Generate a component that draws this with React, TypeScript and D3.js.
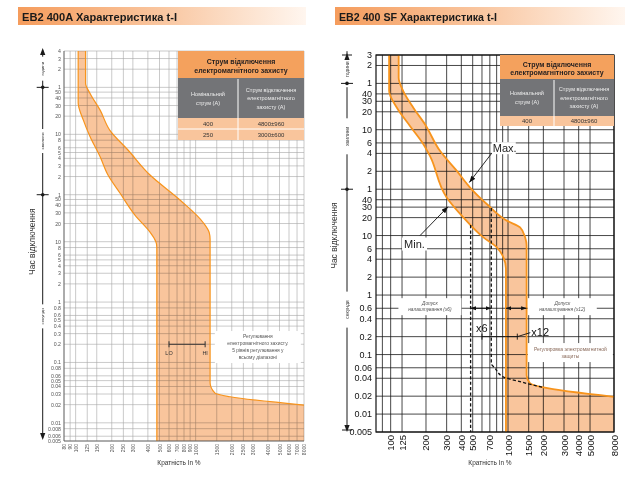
import * as React from "react";
import * as d3 from "d3";

type Pt = [number, number]; // [multiple of In, %; trip time, s]
type Scale = d3.ScaleLogarithmic<number, number>;

const HOUR = 3600;
const MINUTE = 60;

// ---------- EB2 400A (left) ----------
const leftTitle = "EB2 400A Характеристика t-I";
const leftXTicks = [80, 90, 100, 125, 150, 200, 250, 300, 400, 500, 600, 700, 800, 900, 1000, 1500, 2000, 2500, 3000, 4000, 5000, 6000, 7000, 8000];
const leftHours = [4, 3, 2, 1];
const leftMinutes = [50, 40, 30, 20, 10, 8, 6, 5, 4, 3, 2, 1];
const leftSeconds = [50, 40, 30, 20, 10, 8, 6, 5, 4, 3, 2, 1, 0.8, 0.6, 0.5, 0.4, 0.3, 0.2, 0.1, 0.08, 0.06, 0.05, 0.04, 0.03, 0.02, 0.01, 0.008, 0.006, 0.005];
const leftMinCurve: Pt[] = [[105, 14400], [105, 2000], [116, 1030], [132, 546], [160, 255], [186, 127], [234, 64], [312, 27.6], [417, 14.4], [450, 11.5], [472, 9.2], [475, 7.5], [475, 0.005]];
const leftMaxCurve: Pt[] = [[121, 14400], [121, 4200], [132, 2850], [160, 1510], [193, 700], [273, 330], [417, 127], [741, 49], [1150, 21], [1300, 14], [1320, 11], [1320, 0.046], [1450, 0.031], [1940, 0.027], [8000, 0.0197]];
const leftRows = [["400", "4800±960"], ["250", "3000±600"]];
const leftLoHi: Pt[] = [[600, 0.2], [1200, 0.2]];
const leftNote = ["Регулювання", "електромагнітного захисту.", "5 рівнів регулювання у", "всьому діапазоні"];
const leftNoteAt: Pt = [3300, 0.18];

// ---------- EB2 400 SF (right) ----------
const rightTitle = "EB2 400 SF Характеристика t-I";
const rightXGrid = [85, 100, 125, 200, 300, 400, 500, 600, 700, 800, 900, 1000, 1500, 2000, 3000, 4000, 5000, 8000];
const rightXLabels = [100, 125, 200, 300, 400, 500, 700, 1000, 1500, 2000, 3000, 4000, 5000, 8000];
const rightHours = [3, 2, 1];
const rightMinutes = [40, 30, 20, 10, 6, 4, 2, 1];
const rightSeconds = [40, 30, 20, 10, 6, 4, 2, 1, 0.6, 0.4, 0.2, 0.1, 0.06, 0.04, 0.02, 0.01, 0.005];
const rightMinCurve: Pt[] = [[97, 10800], [97, 2700], [113, 1400], [146, 694], [190, 343], [216, 218], [300, 43.7], [416, 20.2], [617, 9.3], [802, 6.35], [913, 4.3], [960, 2.8], [960, 0.005]];
const rightMaxCurve: Pt[] = [[117, 10800], [117, 4470], [128, 2680], [156, 1406], [196, 741], [263, 265], [366, 122], [475, 64], [659, 33.9], [975, 17.8], [1267, 13.7], [1400, 9.3], [1440, 6.8], [1440, 0.045], [1540, 0.033], [2000, 0.028], [8000, 0.0195]];
const rightX6Min: Pt[] = [[480, 15], [480, 0.005]];
const rightX6Max: Pt[] = [[720, 29], [720, 0.071], [775, 0.059], [913, 0.042], [1267, 0.035], [2000, 0.028]];
const rightRows = [["400", "4800±960"]];
const rightTolX6: Pt[] = [[480, 0.6], [720, 0.6]];
const rightTolX12: Pt[] = [[960, 0.6], [1440, 0.6]];
const rightSetting: Pt[] = [[600, 0.2], [1200, 0.2]];
const rightMinArrow: Pt[] = [[178, 10], [308, 30.5]];
const rightMaxArrow: Pt[] = [[727, 242], [468, 78]];
const rightTolX6At: Pt = [216, 0.6];
const rightTolX12At: Pt = [2900, 0.6];
const rightNoteAt: Pt = [3400, 0.1];

const tableHead = ["Струм відключення", "електромагнітного захисту"];
const tableColA = ["Номінальний", "струм (А)"];
const tableColB = ["Струм відключення", "електромагнітного", "захисту (А)"];
const unitNames = ["години", "хвилини", "секунди"];
const yTitle = "Час відключення";
const xTitle = "Кратність In %";

const ORANGE = "#f7941d";
const BAND = "#f9c59c";

function toTicks(h: number[], m: number[], s: number[]) {
  return [
    ...h.map((v) => ({ t: v * HOUR, label: String(v) })),
    ...m.map((v) => ({ t: v * MINUTE, label: String(v) })),
    ...s.map((v) => ({ t: v, label: String(v) })),
  ];
}

function Grid({ x, y, xs, ts, stroke, sw }: { x: Scale; y: Scale; xs: number[]; ts: { t: number }[]; stroke: string; sw: number }) {
  const [x0, x1] = x.range();
  const [yb, yt] = y.range();
  return (
    <g stroke={stroke} strokeWidth={sw}>
      {xs.map((v) => <line key={"v" + v} x1={x(v)} x2={x(v)} y1={yt} y2={yb} />)}
      {ts.map((d) => <line key={"h" + d.t} x1={x0} x2={x1} y1={y(d.t)} y2={y(d.t)} />)}
    </g>
  );
}

function Band({ x, y, minPts, maxPts, sw }: { x: Scale; y: Scale; minPts: Pt[]; maxPts: Pt[]; sw: number }) {
  const line = d3.line<Pt>().x((d) => x(d[0])).y((d) => y(d[1])).curve(d3.curveMonotoneY);
  const minPath = line(minPts) ?? "";
  const maxPath = line(maxPts) ?? "";
  const back = line([...maxPts].reverse()) ?? "";
  const tail = maxPts[maxPts.length - 1];
  const floor = minPts[minPts.length - 1][1];
  const area = `${minPath}L${x(tail[0])},${y(floor)}${back.replace(/^M/, "L")}Z`;
  return (
    <g>
      <path d={area} fill={BAND} style={{ mixBlendMode: "multiply" }} />
      <path d={minPath} fill="none" stroke={ORANGE} strokeWidth={sw} />
      <path d={maxPath} fill="none" stroke={ORANGE} strokeWidth={sw} />
    </g>
  );
}

function YLabels({ y, ticks, xr, size, color }: { y: Scale; ticks: { t: number; label: string }[]; xr: number; size: number; color: string }) {
  return (
    <g fontSize={size} fill={color} textAnchor="end" dominantBaseline="central">
      {ticks.map((d) => <text key={d.t} x={xr} y={y(d.t)}>{d.label}</text>)}
    </g>
  );
}

function XLabels({ x, vals, yTop, size, color }: { x: Scale; vals: number[]; yTop: number; size: number; color: string }) {
  return (
    <g fontSize={size} fill={color} textAnchor="end" dominantBaseline="central">
      {vals.map((v) => (
        <text key={v} transform={`translate(${x(v)},${yTop}) rotate(-90)`}>{String(v)}</text>
      ))}
    </g>
  );
}

function TimeColumn({ cx, top, bottom, y, unitSize, gap, titleX, titleSize, endTicks }: {
  cx: number; top: number; bottom: number; y: Scale; unitSize: number; gap: number; titleX: number; titleSize: number; endTicks: boolean;
}) {
  const yH = y(HOUR);
  const yM = y(MINUTE);
  const units = [(top + yH) / 2, (yH + yM) / 2, (yM + bottom) / 2];
  const segs: [number, number][] = [];
  let s = top;
  units.forEach((u) => {
    segs.push([s, u - gap]);
    s = u + gap;
  });
  segs.push([s, bottom]);
  return (
    <g>
      <g stroke="#1a1a1a" strokeWidth={1}>
        {segs.map(([a, b], i) => <line key={i} x1={cx} x2={cx} y1={a} y2={b} />)}
        {[yH, yM].map((v) => <line key={v} x1={cx - 6} x2={cx + 6} y1={v} y2={v} />)}
        {endTicks && [top, bottom].map((v) => <line key={"e" + v} x1={cx - 5} x2={cx + 5} y1={v} y2={v} />)}
      </g>
      {[yH, yM].map((v) => <circle key={v} cx={cx} cy={v} r={1.8} fill="#1a1a1a" />)}
      <path d={`M${cx},${top - 2}L${cx - 2.6},${top + 5}L${cx + 2.6},${top + 5}Z`} fill="#1a1a1a" />
      <path d={`M${cx},${bottom + 2}L${cx - 2.6},${bottom - 5}L${cx + 2.6},${bottom - 5}Z`} fill="#1a1a1a" />
      <g fontSize={unitSize} fill="#444" textAnchor="middle" dominantBaseline="central">
        {units.map((u, i) => (
          <text key={i} transform={`translate(${cx},${u}) rotate(-90)`}>{unitNames[i]}</text>
        ))}
      </g>
      <text transform={`translate(${titleX},${y(10)}) rotate(-90)`} fontSize={titleSize} fill="#333" textAnchor="middle" dominantBaseline="central">
        {yTitle}
      </text>
    </g>
  );
}

function Table({ x0, x1, xDiv, top, headH, grayH, rowH, rows }: {
  x0: number; x1: number; xDiv: number; top: number; headH: number; grayH: number; rowH: number; rows: string[][];
}) {
  const cA = (x0 + xDiv) / 2;
  const cB = (xDiv + x1) / 2;
  const gTop = top + headH;
  const gMid = gTop + grayH / 2;
  const rTop = gTop + grayH;
  const bottom = rTop + rowH * rows.length;
  return (
    <g>
      <rect x={x0} y={top} width={x1 - x0} height={headH} fill="#f4a15d" />
      <rect x={x0} y={gTop} width={x1 - x0} height={grayH} fill="#737477" />
      <rect x={x0} y={rTop} width={x1 - x0} height={rowH * rows.length} fill={BAND} />
      <g fontSize={7} fontWeight="bold" fill="#231f20" textAnchor="middle" dominantBaseline="central">
        <text x={(x0 + x1) / 2} y={top + headH * 0.4}>{tableHead[0]}</text>
        <text x={(x0 + x1) / 2} y={top + headH * 0.74}>{tableHead[1]}</text>
      </g>
      <g fontSize={5.6} fill="#ececec" textAnchor="middle" dominantBaseline="central">
        {tableColA.map((t, i) => <text key={t} x={cA} y={gMid - 4.5 + i * 9}>{t}</text>)}
        {tableColB.map((t, i) => <text key={t} x={cB} y={gMid - 8.5 + i * 8.5}>{t}</text>)}
      </g>
      <g stroke="#fff" strokeWidth={1}>
        <line x1={xDiv} x2={xDiv} y1={gTop + 1} y2={bottom} />
        {rows.slice(1).map((_, i) => <line key={i} x1={x0} x2={x1} y1={rTop + rowH * (i + 1)} y2={rTop + rowH * (i + 1)} />)}
      </g>
      <g fontSize={6} fill="#333" textAnchor="middle" dominantBaseline="central">
        {rows.map((r, i) => (
          <g key={i}>
            <text x={cA} y={rTop + rowH * (i + 0.5)}>{r[0]}</text>
            <text x={cB} y={rTop + rowH * (i + 0.5)}>{r[1]}</text>
          </g>
        ))}
      </g>
    </g>
  );
}

function TitleBar({ x0, x1, text, len }: { x0: number; x1: number; text: string; len: number }) {
  return (
    <g>
      <rect x={x0} y={7} width={x1 - x0} height={18} fill="url(#titleGrad)" />
      <text x={x0 + 4} y={20.5} fontSize={11.5} fontWeight="bold" fill="#1a1a1a" textLength={len} lengthAdjust="spacingAndGlyphs">
        {text}
      </text>
    </g>
  );
}

function NoteBox({ cx, cy, w, h, lines, size, lh, color, italic }: {
  cx: number; cy: number; w: number; h: number; lines: string[]; size: number; lh: number; color: string; italic?: boolean;
}) {
  const first = cy - ((lines.length - 1) * lh) / 2;
  return (
    <g>
      <rect x={cx - w / 2} y={cy - h / 2} width={w} height={h} fill="#fff" />
      <g fontSize={size} fill={color} textAnchor="middle" dominantBaseline="central" fontStyle={italic ? "italic" : "normal"}>
        {lines.map((l, i) => <text key={i} x={cx} y={first + i * lh}>{l}</text>)}
      </g>
    </g>
  );
}

export default function App() {
  const xL = d3.scaleLog().domain([80, 8000]).range([64, 304]);
  const yL = d3.scaleLog().domain([0.005, 14400]).range([441, 51]);
  const xR = d3.scaleLog().domain([75, 8000]).range([376, 614]);
  const yR = d3.scaleLog().domain([0.005, 10800]).range([432, 55]);

  const leftTicks = toTicks(leftHours, leftMinutes, leftSeconds);
  const rightTicks = toTicks(rightHours, rightMinutes, rightSeconds);

  const dash = d3.line<Pt>().x((d) => xR(d[0])).y((d) => yR(d[1])).curve(d3.curveMonotoneY);
  const seg = (x: Scale, y: Scale, p: Pt[]) => ({ x1: x(p[0][0]), y1: y(p[0][1]), x2: x(p[1][0]), y2: y(p[1][1]) });

  const lo = seg(xL, yL, leftLoHi);
  const x6 = seg(xR, yR, rightSetting);
  const tol6 = seg(xR, yR, rightTolX6);
  const tol12 = seg(xR, yR, rightTolX12);
  const minA = seg(xR, yR, rightMinArrow);
  const maxA = seg(xR, yR, rightMaxArrow);

  return (
    <svg
      width={640}
      height={480}
      style={{ position: "absolute", left: 0, top: 0, background: "#fff" }}
      fontFamily="'Liberation Sans', Arial, sans-serif"
    >
      <defs>
        <linearGradient id="titleGrad" x1="0" x2="1" y1="0" y2="0">
          <stop offset="0" stopColor="#f59c5c" />
          <stop offset="0.5" stopColor="#f9c6a0" />
          <stop offset="1" stopColor="#fff6ef" />
        </linearGradient>
        <marker id="arr" viewBox="0 0 8 6" refX="8" refY="3" markerWidth="7" markerHeight="5" markerUnits="userSpaceOnUse" orient="auto-start-reverse">
          <path d="M0,0L8,3L0,6Z" fill="#111" />
        </marker>
        <marker id="arrS" viewBox="0 0 8 6" refX="8" refY="3" markerWidth="5.5" markerHeight="4.5" markerUnits="userSpaceOnUse" orient="auto-start-reverse">
          <path d="M0,0L8,3L0,6Z" fill="#111" />
        </marker>
      </defs>

      {/* ---------------- left chart ---------------- */}
      <TitleBar x0={18} x1={306} text={leftTitle} len={155} />
      <Grid x={xL} y={yL} xs={leftXTicks} ts={leftTicks} stroke="#a6a6a6" sw={0.6} />
      <NoteBox cx={xL(leftNoteAt[0])} cy={yL(leftNoteAt[1])} w={86} h={32} lines={leftNote} size={4.9} lh={7} color="#555" />
      <Band x={xL} y={yL} minPts={leftMinCurve} maxPts={leftMaxCurve} sw={1.2} />
      <line x1={64} x2={64} y1={51} y2={441} stroke="#555" strokeWidth={0.8} />
      <line x1={64} x2={304} y1={441} y2={441} stroke="#555" strokeWidth={0.8} />
      <Table x0={178} x1={304} xDiv={238} top={51} headH={27} grayH={40} rowH={11} rows={leftRows} />
      <g stroke="#333" strokeWidth={1}>
        <line {...lo} />
        <line x1={lo.x1} x2={lo.x1} y1={lo.y1 - 3} y2={lo.y1 + 3} />
        <line x1={lo.x2} x2={lo.x2} y1={lo.y2 - 3} y2={lo.y2 + 3} />
      </g>
      <g fontSize={5.5} fill="#333" textAnchor="middle">
        <text x={lo.x1} y={lo.y1 + 11}>LO</text>
        <text x={lo.x2} y={lo.y2 + 11}>HI</text>
      </g>
      <YLabels y={yL} ticks={leftTicks} xr={61} size={5.2} color="#555" />
      <XLabels x={xL} vals={leftXTicks} yTop={444} size={5} color="#555" />
      <text x={179} y={465} fontSize={6.5} fill="#333" textAnchor="middle">{xTitle}</text>
      <TimeColumn cx={42.7} top={50} bottom={438} y={yL} unitSize={4.4} gap={12} titleX={32} titleSize={8.5} endTicks={false} />

      {/* ---------------- right chart ---------------- */}
      <TitleBar x0={335} x1={625} text={rightTitle} len={158} />
      <Grid x={xR} y={yR} xs={rightXGrid} ts={rightTicks} stroke="#1a1a1a" sw={0.8} />
      <NoteBox cx={xR(rightTolX6At[0])} cy={yR(rightTolX6At[1]) - 1.6} w={63} h={17} lines={["Допуск", "налаштування (x6)"]} size={4.8} lh={6.2} color="#555" italic />
      <NoteBox cx={xR(rightTolX12At[0])} cy={yR(rightTolX12At[1]) - 1.6} w={69} h={17} lines={["Допуск", "налаштування (x12)"]} size={4.8} lh={6.2} color="#555" italic />
      <NoteBox cx={xR(rightNoteAt[0])} cy={yR(rightNoteAt[1]) - 2} w={85} h={19} lines={["Регулировка электромагнитной", "защиты"]} size={5} lh={6.5} color="#8a6a5a" />
      <Band x={xR} y={yR} minPts={rightMinCurve} maxPts={rightMaxCurve} sw={1.8} />
      <g fill="none" stroke="#111" strokeWidth={1.3} strokeDasharray="3.2 2.2">
        <path d={dash(rightX6Min) ?? ""} />
        <path d={dash(rightX6Max) ?? ""} />
      </g>
      <rect x={376} y={55} width={238} height={377} fill="none" stroke="#111" strokeWidth={1.2} />
      <Table x0={500} x1={614} xDiv={554} top={55} headH={24} grayH={37} rowH={10} rows={rightRows} />

      {/* tolerance arrows */}
      <g stroke="#111" strokeWidth={1}>
        <line {...tol6} markerStart="url(#arrS)" markerEnd="url(#arrS)" />
        <line {...tol12} markerStart="url(#arrS)" markerEnd="url(#arrS)" />
      </g>
      {/* x6 / x12 setting bar */}
      <g stroke="#111" strokeWidth={0.9}>
        <line {...x6} />
        <line x1={x6.x1} x2={x6.x1} y1={x6.y1 - 3} y2={x6.y1 + 3} />
        <line x1={x6.x2} x2={x6.x2} y1={x6.y2 - 3} y2={x6.y2 + 3} />
        <line x1={x6.x2} y1={x6.y2} x2={x6.x2 + 13} y2={x6.y2 - 4} />
      </g>
      <g fontSize={11} fill="#111">
        <text x={x6.x1 - 6} y={x6.y1 - 5}>x6</text>
        <text x={x6.x2 + 14} y={x6.y2 - 1}>x12</text>
      </g>

      {/* Min / Max pointers */}
      <rect x={minA.x1 - 18} y={minA.y1 + 2} width={25} height={13} fill="#fff" />
      <rect x={maxA.x1} y={maxA.y1 - 11} width={24} height={12} fill="#fff" />
      <g stroke="#111" strokeWidth={0.9}>
        <line {...minA} markerEnd="url(#arr)" />
        <line {...maxA} markerEnd="url(#arr)" />
      </g>
      <g fontSize={11} fill="#222">
        <text x={minA.x1 - 16} y={minA.y1 + 12.5}>Min.</text>
        <text x={maxA.x1 + 1} y={maxA.y1 - 1.5}>Max.</text>
      </g>

      <YLabels y={yR} ticks={rightTicks} xr={372} size={9} color="#111" />
      <XLabels x={xR} vals={rightXLabels} yTop={435} size={9.5} color="#111" />
      <text x={490} y={465} fontSize={6.5} fill="#333" textAnchor="middle">{xTitle}</text>
      <TimeColumn cx={347} top={55} bottom={430} y={yR} unitSize={5} gap={18} titleX={334} titleSize={8.5} endTicks={true} />
    </svg>
  );
}
